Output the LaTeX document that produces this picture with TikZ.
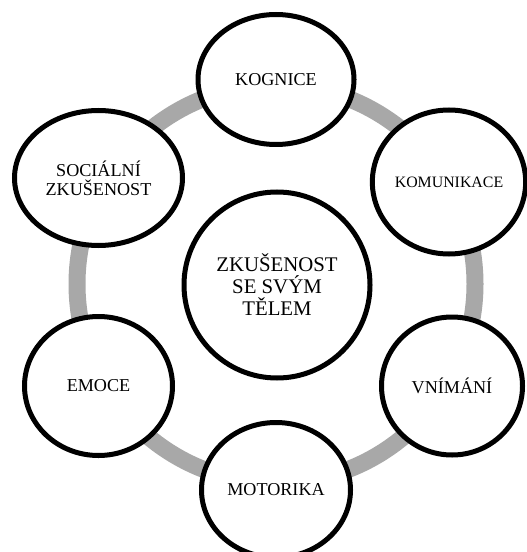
\documentclass[tikz,border=0pt]{standalone}
\usepackage{fontspec}
\setmainfont{Liberation Serif}
\usepackage{tikz}
\usetikzlibrary{shapes.geometric}
\usepackage{xcolor}
\definecolor{ringgray}{HTML}{A8A8A8}

\begin{document}
\begin{tikzpicture}[
  x=0.75pt, y=-0.75pt,
  topicnode/.style={
    draw=black,
    fill=white,
    ellipse,
    line width=3.75pt,
    inner sep=0pt,
    align=center,
    font=\fontsize{13.6}{14.5}\selectfont
  },
  corenode/.style={
    topicnode,
    circle,
    minimum size=139.5pt,
    font=\fontsize{15.6}{16.5}\selectfont
  }
]
  \useasboundingbox (0,0) rectangle (526,552);

  % Grey ring behind the nodes
  \draw[ringgray, line width=12.75pt] (276,284) circle[radius=199];

  % Centre node
  \node[corenode] (telo) at (277,285) {ZKUŠENOST\\SE SVÝM\\TĚLEM};

  % Nodes round the ring
  \node[topicnode, minimum width=117pt, minimum height=97.5pt] (kognice) at (276,79.5) {KOGNICE};
  \node[topicnode, minimum width=111.75pt, minimum height=108pt,
        font=\fontsize{11.9}{13}\selectfont] (komunikace) at (449,182) {KOMUNIKACE};
  \node[topicnode, minimum width=105.75pt, minimum height=103.5pt] (vnimani) at (452,386) {VNÍMÁNÍ};
  \node[topicnode, minimum width=111.75pt, minimum height=101.25pt] (motorika) at (276,490) {MOTORIKA};
  \node[topicnode, minimum width=111pt, minimum height=104.25pt] (emoce) at (98.5,386) {EMOCE};
  \node[topicnode, minimum width=126pt, minimum height=101.25pt] (socialni) at (98.5,178) {SOCIÁLNÍ\\ZKUŠENOST};

\end{tikzpicture}
\end{document}
